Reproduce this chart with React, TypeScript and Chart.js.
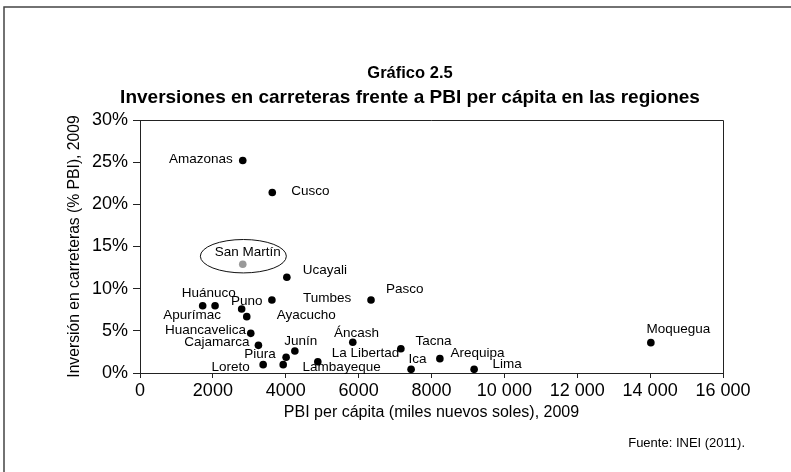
import React, { useEffect, useRef } from "react";
import { Chart, registerables } from "chart.js";

Chart.register(...registerables);

const regions = [
  "Amazonas", "Cusco", "San Martín", "Ucayali", "Huánuco", "Apurímac", "Puno",
  "Ayacucho", "Tumbes", "Pasco", "Huancavelica", "Cajamarca", "Junín", "Piura",
  "Loreto", "Lambayeque", "La Libertad", "Áncash", "Tacna", "Ica", "Arequipa",
  "Lima", "Moquegua",
];
const pbiPerCapita = [
  2820, 3630, 2820, 4030, 2060, 1720, 2790, 2930, 3620, 6340, 3040, 3250, 4250,
  4010, 3380, 3930, 4880, 5840, 7160, 7440, 8230, 9170, 14020,
];
const inversionPct = [
  25.2, 21.4, 12.9, 11.35, 7.98, 7.98, 7.59, 6.68, 8.66, 8.66, 4.7, 3.28, 2.6,
  1.86, 0.99, 0.99, 1.34, 3.64, 2.88, 0.44, 1.7, 0.44, 3.6,
];
const highlighted = "San Martín";

const titleLine1 = "Gráfico 2.5";
const titleLine2 = "Inversiones en carreteras frente a PBI per cápita en las regiones";
const xAxisTitle = "PBI per cápita (miles nuevos soles), 2009";
const yAxisTitle = "Inversión en carreteras (% PBI), 2009";
const sourceNote = "Fuente: INEI (2011).";

// label placement (style only): [align, dx, dy] relative to the point in pixels
const labelPlacement: [CanvasTextAlign, number, number][] = [
  ["right", -10, -0.7], ["left", 19, -1.7], ["center", 5, -12.3], ["left", 16, -7.3],
  ["left", -33.3, -12.4], ["left", -39.4, 9.3], ["left", -10.7, -8], ["left", 30, -1.7],
  ["left", 31, -1.7], ["left", 15, -10.7], ["right", -4.7, -3.3], ["right", -9, -2.6],
  ["left", -10.7, -10], ["right", -10.3, -3], ["right", -13.3, 2.6], ["left", 19.4, 2.6],
  ["left", 14, -8.4], ["left", -18.7, -9], ["left", 14.7, -7.7], ["left", -2.7, -10],
  ["left", 10.7, -5.4], ["left", 18.3, -5.3], ["left", -4.3, -13.4],
];

const FONT = '"Liberation Sans", Arial, Helvetica, sans-serif';

function formatThousands(v: number): string {
  if (Math.abs(v) >= 10000) {
    const s = String(Math.round(v));
    return s.slice(0, s.length - 3) + " " + s.slice(s.length - 3);
  }
  return String(v);
}

const decorPlugin = {
  id: "decor",
  beforeDraw(chart: any) {
    const ctx = chart.ctx;
    ctx.save();
    ctx.fillStyle = "#fff";
    ctx.fillRect(0, 0, chart.width, chart.height);
    ctx.strokeStyle = "#444";
    ctx.lineWidth = 1.5;
    ctx.strokeRect(4, 7, chart.width + 20, chart.height + 20);
    ctx.restore();
  },
  afterDraw(chart: any) {
    const ctx = chart.ctx;
    const area = chart.chartArea;
    const xs = chart.scales.x;
    const ys = chart.scales.y;
    ctx.save();
    // top & right of plot box
    ctx.strokeStyle = "#222";
    ctx.lineWidth = 1;
    ctx.beginPath();
    ctx.moveTo(area.left, area.top + 0.5);
    ctx.lineTo(area.right + 0.5, area.top + 0.5);
    ctx.lineTo(area.right + 0.5, area.bottom);
    ctx.stroke();

    // titles
    ctx.fillStyle = "#000";
    ctx.textAlign = "center";
    ctx.textBaseline = "middle";
    ctx.font = `bold 16.5px ${FONT}`;
    ctx.fillText(titleLine1, 410, 73);
    ctx.font = `bold 19px ${FONT}`;
    ctx.fillText(titleLine2, 410, 98);

    // axis titles
    ctx.font = `16px ${FONT}`;
    ctx.fillText(xAxisTitle, (area.left + area.right) / 2, 413);
    ctx.save();
    ctx.translate(75, (area.top + area.bottom) / 2);
    ctx.rotate(-Math.PI / 2);
    ctx.font = `15.7px ${FONT}`;
    ctx.fillText(yAxisTitle, 0, 0);
    ctx.restore();

    // source
    ctx.font = `13px ${FONT}`;
    ctx.textAlign = "right";
    ctx.fillText(sourceNote, 745, 443);

    // point labels
    ctx.font = `13.5px ${FONT}`;
    regions.forEach((name, i) => {
      const px = xs.getPixelForValue(pbiPerCapita[i]);
      const py = ys.getPixelForValue(inversionPct[i]);
      const [align, dx, dy] = labelPlacement[i];
      ctx.textAlign = align;
      ctx.fillText(name, px + dx, py + dy);
      if (name === highlighted) {
        ctx.beginPath();
        ctx.ellipse(px + 0.6, py - 8, 43, 16.7, 0, 0, Math.PI * 2);
        ctx.strokeStyle = "#111";
        ctx.lineWidth = 1;
        ctx.stroke();
      }
    });
    ctx.restore();
  },
};

export default function App() {
  const ref = useRef<HTMLCanvasElement | null>(null);
  useEffect(() => {
    if (!ref.current) return;
    const points = pbiPerCapita.map((x, i) => ({ x, y: inversionPct[i] }));
    const colors = regions.map((r) => (r === highlighted ? "#999" : "#000"));
    const chart = new Chart(ref.current, {
      type: "scatter",
      data: {
        datasets: [
          {
            data: points,
            pointBackgroundColor: colors,
            pointBorderColor: colors,
            pointBorderWidth: 0,
            pointRadius: 3.8,
          },
        ],
      },
      options: {
        animation: false,
        responsive: false,
        devicePixelRatio: 1,
        layout: { padding: { top: 120, right: 68, left: 0, bottom: 0 } },
        plugins: { legend: { display: false }, tooltip: { enabled: false }, title: { display: false } },
        scales: {
          x: {
            type: "linear",
            min: 0,
            max: 16000,
            ticks: {
              stepSize: 2000,
              color: "#000",
              padding: 2,
              maxRotation: 0,
              font: { family: FONT, size: 18 },
              callback: (v: any) => formatThousands(Number(v)),
            },
            grid: { drawOnChartArea: false, tickLength: 5, color: "#222" },
            border: { color: "#222", width: 1 },
            afterFit: (s: any) => {
              s.height = 99;
            },
          },
          y: {
            type: "linear",
            min: 0,
            max: 30,
            ticks: {
              stepSize: 5,
              color: "#000",
              padding: 5,
              font: { family: FONT, size: 18 },
              callback: (v: any) => `${v}%`,
            },
            grid: { drawOnChartArea: false, tickLength: 7, color: "#222" },
            border: { color: "#222", width: 1 },
            afterFit: (s: any) => {
              s.width = 140;
            },
          },
        },
      },
      plugins: [decorPlugin],
    });
    return () => chart.destroy();
  }, []);
  return (
    <div style={{ position: "fixed", left: 0, top: 0, width: 791, height: 472, background: "#fff" }}>
      <canvas ref={ref} width={791} height={472} style={{ display: "block" }} />
    </div>
  );
}
